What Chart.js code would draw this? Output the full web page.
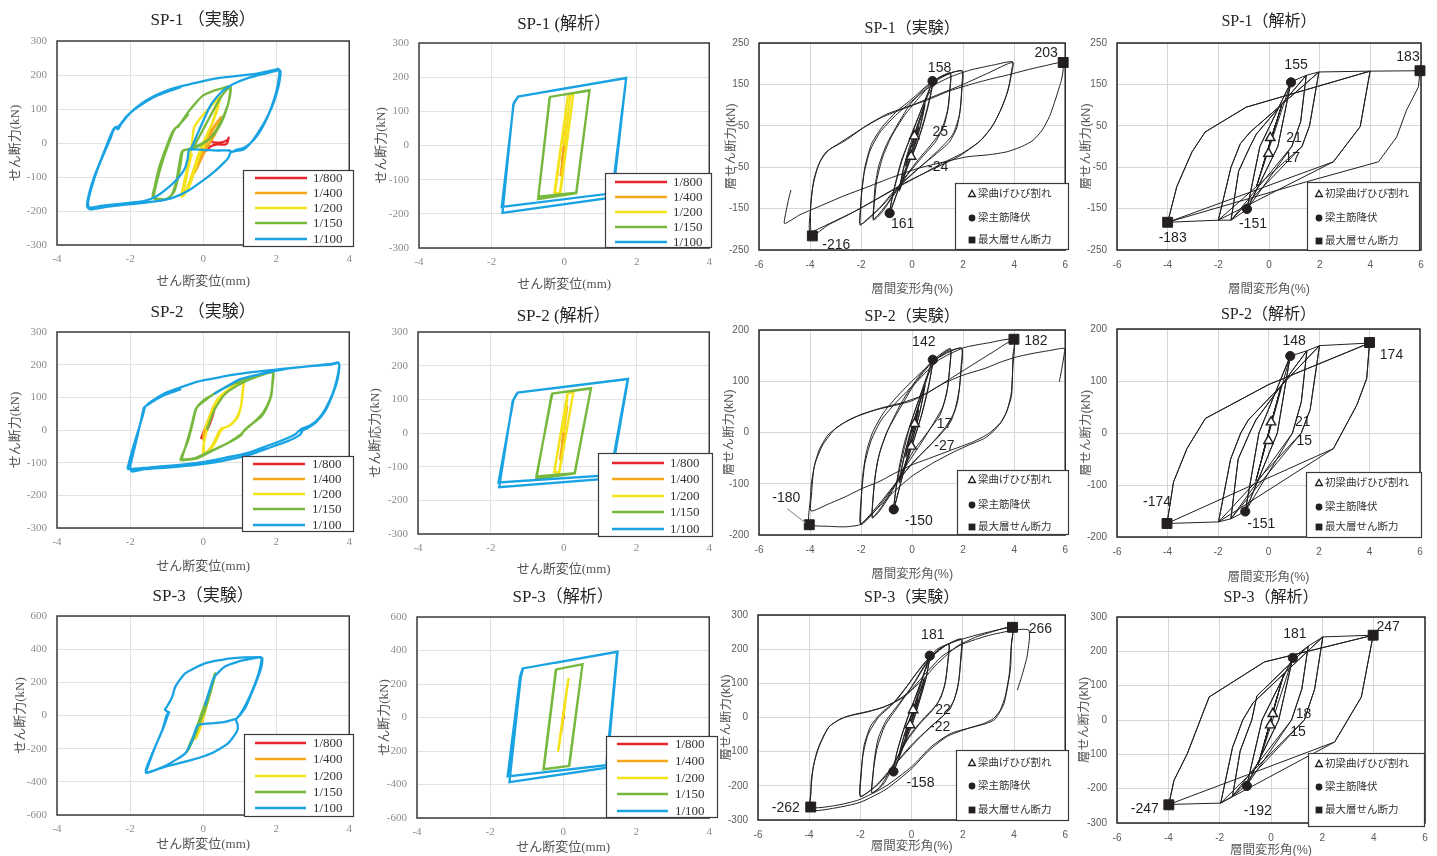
<!DOCTYPE html>
<html>
<head>
<meta charset="utf-8">
<script src="https://cdn.jsdelivr.net/npm/chart.js@4.4.1/dist/chart.umd.min.js"></script>
<style>
  body { margin: 0; background: #fff; }
  #page { position: relative; width: 1437px; height: 856px; overflow: hidden; background: #fff; }
  #page canvas { position: absolute; }
</style>
</head>
<body>
<div id="page"></div>
<script>
// ---------- categories / legend texts ----------
const driftLabels = ['1/800', '1/400', '1/200', '1/150', '1/100'];
const driftColors = ['#e8242c', '#f5a81c', '#f4e21a', '#77b83f', '#1aa3e2'];
const markLabelsExp = ['梁曲げひび割れ', '梁主筋降伏', '最大層せん断力'];
const markLabelsAna = ['初梁曲げひび割れ', '梁主筋降伏', '最大層せん断力'];

// ---------- SP-1 experiment : shear displacement (mm) vs shear force (kN) ----------
const sp1ExpRed = [[-0.05,-20],[0.05,0],[0.2,30],[0.23,40],[0.24,20],[0.25,3],[0.5,2],[0.68,10],[0.7,16],[0.66,0],[0.6,-5],[0.4,-4],[0.2,-10],[0.05,-25],[0,-15]];
const sp1ExpOrange = [[0,0],[0.15,25],[0.3,50],[0.5,77],[0.42,50],[0.3,20],[0.12,-10],[-0.05,-40],[-0.2,-75],[-0.28,-95],[-0.22,-75],[-0.1,-45],[0.05,-10],[0.25,35],[0.48,75],[0.38,40],[0.2,5],[0,-35],[-0.15,-70],[-0.25,-90],[-0.15,-60],[0,-20]];
const sp1ExpYellow = [[0,-20],[0.1,20],[0.25,60],[0.38,105],[0.47,138],[0.42,110],[0.3,70],[0.15,35],[0,0],[-0.15,-40],[-0.3,-90],[-0.45,-135],[-0.6,-155],[-0.55,-130],[-0.45,-80],[-0.35,-30],[-0.3,5],[-0.25,45],[-0.1,70],[0.1,95],[0.3,118],[0.46,136],[0.38,100],[0.25,60],[0.1,20],[-0.05,-20],[-0.2,-70],[-0.35,-120],[-0.5,-150],[-0.58,-158],[-0.5,-125],[-0.4,-70],[-0.3,-30]];
const sp1ExpGreen = [[-0.3,-20],[-0.1,20],[0.1,60],[0.35,110],[0.55,145],[0.75,166],[0.72,130],[0.62,95],[0.45,55],[0.2,15],[-0.1,-8],[-0.35,-18],[-0.55,-22],[-0.6,-50],[-0.68,-100],[-0.8,-145],[-1.0,-165],[-1.38,-160],[-1.33,-130],[-1.2,-70],[-1.0,-10],[-0.85,30],[-0.75,45],[-0.68,48],[-0.45,85],[-0.2,118],[0,140],[0.25,152],[0.5,160],[0.72,167],[0.74,150],[0.66,105],[0.5,60],[0.25,20],[-0.1,-5],[-0.4,-18],[-0.58,-25],[-0.65,-60],[-0.75,-120],[-0.9,-158],[-1.2,-170],[-1.35,-162],[-1.28,-120],[-1.1,-50],[-0.9,10],[-0.78,40],[-0.6,60],[-0.4,85]];
const sp1ExpBlue = [[-0.35,-22],[-0.1,40],[0.2,110],[0.5,150],[0.8,172],[1.2,190],[1.6,202],[2.0,212],[2.08,215],[2.08,195],[2.0,150],[1.85,100],[1.7,62],[1.5,25],[1.3,0],[1.1,-15],[0.9,-20],[0.8,-26],[0.72,-22],[0.4,-22],[0,-20],[-0.38,-20],[-0.42,-45],[-0.5,-75],[-0.7,-105],[-1.0,-135],[-1.3,-158],[-1.6,-170],[-2.2,-178],[-2.8,-185],[-3.12,-190],[-3.15,-175],[-3.05,-130],[-2.9,-80],[-2.75,-40],[-2.55,10],[-2.45,38],[-2.38,45],[-2.33,40],[-2.25,55],[-2.0,88],[-1.7,115],[-1.3,140],[-0.9,158],[-0.4,172],[0,182],[0.5,192],[1.0,198],[1.5,205],[1.95,215],[2.05,218],[2.12,210],[2.05,160],[1.9,110],[1.7,65],[1.5,30],[1.3,0],[1.1,-20],[0.9,-23],[0.75,-28],[0.7,-42],[0.55,-60],[0.3,-85],[0,-110],[-0.4,-140],[-0.8,-160],[-1.3,-172],[-2.0,-180],[-2.6,-187],[-3.1,-195],[-3.18,-185],[-3.1,-140],[-2.95,-90],[-2.8,-50],[-2.6,5],[-2.48,35],[-2.42,45],[-2.3,50],[-2.1,78],[-1.8,105],[-1.4,132],[-1.0,150],[-0.6,165]];

// ---------- SP-1 analysis : shear displacement ----------
const sp1AnaRed = [[0,0],[0.05,45],[-0.05,-45],[0,0]];
const sp1AnaOrange = [[0,0],[0.1,90],[-0.1,-90],[0.1,90],[0,0]];
const sp1AnaYellow = [[0,0],[0.17,145],[0.25,148],[-0.1,-138],[-0.25,-140],[0.1,143],[0.25,148],[-0.12,-140],[-0.27,-138],[0.1,143]];
const sp1AnaGreen = [[0,149],[0.7,161],[0.34,-138],[-0.71,-150],[-0.39,142],[0.7,162],[0.33,-140],[-0.72,-157],[-0.4,140]];
const sp1AnaBlue = [[-0.3,161],[1.71,197],[1.32,-140],[-1.72,-180],[-1.39,124],[-1.27,143],[1.71,198],[1.34,-152],[-1.7,-197],[-1.4,120],[-1.28,141]];

// ---------- SP-1 experiment : drift angle (%) vs storey shear (kN) ----------
const sp1ExpCurve = [
  [0,0],[0.12,25],[0.25,45],[0.15,20],[0,-5],[-0.12,-25],[-0.25,-45],[-0.15,-20],[0,5],[0.25,48],[0.1,10],[-0.25,-48],[-0.1,-12],
  [0.15,30],[0.5,100],[0.35,55],[0.1,0],[-0.2,-50],[-0.5,-105],[-0.35,-55],[-0.1,0],[0.2,50],[0.5,103],[0.3,45],[0,-15],[-0.5,-108],[-0.3,-45],[0,10],
  [0.4,85],[0.8,158],[0.7,120],[0.45,60],[0.15,0],[-0.3,-60],[-0.6,-115],[-0.88,-161],[-0.75,-115],[-0.45,-45],[-0.15,10],[0.3,80],[0.82,160],[0.7,115],[0.4,45],[0.05,-15],[-0.4,-80],[-0.88,-158],[-0.7,-100],[-0.4,-30],
  [0,30],[0.5,110],[1.0,160],[1.5,175],[1.48,140],[1.42,95],[1.25,50],[0.9,10],[0.4,-25],[-0.2,-70],[-0.8,-125],[-1.2,-160],[-1.52,-178],[-1.5,-140],[-1.45,-95],[-1.3,-45],[-1.0,5],[-0.6,50],[-0.1,100],[0.5,140],[1.0,165],[1.5,178],[1.47,130],[1.38,85],[1.15,40],[0.75,5],[0.2,-35],[-0.4,-85],[-1.0,-140],[-1.5,-175],[-1.47,-130],[-1.38,-80],[-1.15,-25],[-0.8,25],[-0.3,75],
  [0.3,120],[0.9,160],[1.5,178],[1.96,182],[1.95,150],[1.9,95],[1.75,45],[1.45,10],[0.9,-20],[0.2,-55],[-0.6,-100],[-1.3,-150],[-1.75,-175],[-2.04,-190],[-2.02,-160],[-1.98,-110],[-1.85,-50],[-1.6,5],[-1.2,45],[-0.6,85],[0,115],[0.6,148],[1.2,170],[1.97,183],[1.94,130],[1.85,75],[1.6,30],[1.1,-5],[0.4,-45],[-0.4,-90],[-1.2,-145],[-2.02,-188],[-2.0,-130],[-1.88,-65],[-1.65,-10],[-1.25,35],[-0.7,72],[-0.1,105],
  [0.6,140],[1.5,168],[2.3,185],[3.2,197],[3.94,205],[3.9,185],[3.78,140],[3.55,100],[3.2,55],[2.7,15],[2.0,-15],[1.2,-40],[0.3,-70],[-0.6,-100],[-1.6,-135],[-2.5,-165],[-3.3,-190],[-3.91,-216],[-3.98,-190],[-3.97,-140],[-3.85,-80],[-3.6,-35],[-3.25,-8],[-2.6,15],[-1.8,50],[-1.0,78],[0,100],[1.0,125],[2.0,150],[3.0,178],[3.94,203],[3.88,170],[3.7,125],[3.45,85],[3.1,45],[2.6,10],[1.8,-25],[0.8,-55],[-0.2,-85],[-1.2,-120],[-2.2,-155],[-3.2,-185],[-4.0,-205],[-3.98,-150],[-3.9,-100],[-3.7,-50],[-3.4,-15],[-2.8,10],[-2.0,42],[-1.2,70],[-0.3,92],
  [0.7,115],[1.5,135],[2.4,152],[3.2,165],[3.7,172],[4.5,185],[5.2,195],[5.9,203],[5.92,185],[5.85,160],[5.77,144],[5.6,110],[5.38,72],[5.1,40],[4.74,15],[4.3,0],[3.7,-13],[3.0,-20],[2.15,-25],[1.2,-38],[0.22,-53],[-0.8,-75],[-1.72,-97],[-2.7,-120],[-3.65,-145],[-4.4,-165],[-5.0,-186],[-4.95,-160],[-4.85,-130],[-4.75,-105]
];
const sp1ExpCrack = [[0.09,25,'25'],[-0.04,-24,'-24']];
const sp1ExpYield = [[0.8,158,'158'],[-0.88,-161,'161']];
const sp1ExpMax = [[5.92,203,'203'],[-3.91,-216,'-216']];

// ---------- SP-1 analysis : drift angle ----------
const sp1AnaCurve = [
  [0,0],[0.25,52],[-0.25,-48],[0.25,52],[-0.25,-48],
  [0.5,100],[-0.5,-98],[0.5,100],[-0.5,-98],
  [0.87,156],[0.35,0],[-0.87,-152],[-0.36,0],[0.87,156],[0.35,0],[-0.87,-152],[-0.36,0],
  [0.87,156],[1.47,172],[1.25,60],[0.9,0],[-0.87,-152],[-1.5,-178],[-1.2,-60],[-0.75,0],[-0.5,30],[1.47,172],[1.25,60],[0.9,0],[-1.5,-178],[-1.2,-60],[-0.75,0],[-0.5,30],
  [1.47,172],[1.97,180],[1.6,50],[1.3,0],[-1.5,-178],[-2,-178],[-1.5,-50],[-1.13,7],[-0.74,35],[1.97,180],[1.6,50],[1.3,0],[-2,-178],[-1.5,-50],[-1.13,7],[-0.74,35],
  [1.97,180],[3.99,182],[3.6,48],[2.54,-37],[-2,-178],[-4,-183],[-3.64,-97],[-3.04,-13],[-2.52,35],[-0.9,95],[3.99,182],[3.6,48],[2.54,-37],[-4,-183],[-3.64,-97],[-3.04,-13],[-2.52,35],[-0.9,95],
  [3.99,182],[5.96,183],[5.9,144],[5.43,88],[5.04,23],[4.32,-37],[1.49,-85],[-4,-183]
];
const sp1AnaCrack = [[0.05,21,'21'],[-0.02,-17,'17']];
const sp1AnaYield = [[0.87,155,'155'],[-0.87,-151,'-151']];
const sp1AnaMax = [[5.96,183,'183'],[-4,-183,'-183']];

// ---------- SP-2 experiment : shear displacement ----------
const sp2ExpRed = [[0,-20],[0.05,0],[0.15,30],[0.28,58],[0.3,65],[0.25,40],[0.15,10],[0.05,-10],[-0.05,-25],[0,-10],[0.1,15],[0.25,50],[0.3,60],[0.2,25],[0.05,-5]];
const sp2ExpOrange = [[0,-30],[0.05,0],[0.15,30],[0.3,76],[0.25,50],[0.15,20],[0.05,-10],[0,-30],[0.02,-5],[0.12,25],[0.28,70],[0.2,35],[0.05,-5],[0,-25]];
const sp2ExpYellow = [[0.05,0],[0.2,50],[0.4,95],[0.7,125],[1.1,155],[1.08,120],[1.03,70],[0.9,35],[0.7,12],[0.5,5],[0.42,-8],[0.3,-36],[0.15,-62],[0.03,-72],[0.02,-45],[0.08,-10],[0.18,30],[0.3,70],[0.5,100],[0.8,130],[1.12,158],[1.1,130],[1.05,80],[0.95,40],[0.75,15],[0.55,5],[0.45,-10],[0.32,-40],[0.15,-65],[0,-70],[0.02,-40],[0.1,0]];
const sp2ExpGreen = [[0.1,0],[0.3,60],[0.6,110],[1.0,140],[1.4,160],[1.9,176],[1.9,150],[1.87,107],[1.75,70],[1.6,42],[1.3,15],[1.1,-5],[1.05,-15],[0.75,-36],[0.3,-61],[-0.15,-86],[-0.5,-92],[-0.62,-92],[-0.55,-70],[-0.42,-36],[-0.3,15],[-0.2,61],[-0.15,72],[0.1,95],[0.4,118],[0.8,140],[1.2,155],[1.6,168],[1.92,178],[1.9,140],[1.83,95],[1.65,55],[1.4,25],[1.15,2],[1.05,-12],[0.7,-38],[0.2,-65],[-0.2,-85],[-0.5,-90],[-0.58,-88],[-0.48,-50],[-0.35,0],[-0.25,45],[-0.2,65],[0,90],[0.3,110]];
const sp2ExpBlue = [[0.3,110],[1.0,155],[1.6,172],[2.2,186],[3.0,196],[3.5,200],[3.71,205],[3.72,190],[3.65,150],[3.53,107],[3.35,65],[3.17,36],[2.95,15],[2.72,5],[2.6,-5],[2.54,-12],[2.2,-30],[1.82,-46],[1.2,-71],[0.6,-85],[0,-98],[-0.8,-108],[-1.5,-115],[-2.06,-119],[-2.03,-100],[-1.95,-66],[-1.8,-10],[-1.65,45],[-1.59,71],[-1.52,78],[-1.45,85],[-1.05,112],[-0.5,135],[-0.15,148],[0.3,158],[0.75,168],[1.4,178],[2.09,186],[2.99,196],[3.5,202],[3.7,207],[3.73,195],[3.68,155],[3.55,110],[3.35,60],[3.1,25],[2.85,5],[2.72,-2],[2.65,-15],[2.3,-35],[1.8,-55],[1.2,-78],[0.5,-95],[-0.3,-108],[-1.0,-115],[-1.6,-120],[-1.95,-127],[-2.0,-115],[-1.92,-75],[-1.8,-20],[-1.7,30],[-1.62,68],[-1.55,75],[-1.45,82],[-1.1,105],[-0.6,125]];

// ---------- SP-2 analysis : shear displacement ----------
const sp2AnaRed = [[0,0],[0.03,30],[-0.03,-30],[0,0]];
const sp2AnaOrange = [[0,0],[0.1,80],[-0.1,-80],[0.1,80],[0,0]];
const sp2AnaYellow = [[0,0],[0.11,117],[0.27,122],[-0.13,-119],[-0.25,-114],[0.11,117],[0.27,122],[-0.12,-120],[-0.26,-116],[0.1,116]];
const sp2AnaGreen = [[0.05,122],[0.75,132],[0.31,-119],[-0.75,-129],[-0.31,117],[0.75,133],[0.3,-120],[-0.75,-136],[-0.33,115]];
const sp2AnaBlue = [[-0.35,132],[1.76,160],[1.28,-125],[-1.79,-147],[-1.38,98],[-1.26,120],[1.77,161],[1.3,-135],[-1.77,-161],[-1.4,95],[-1.28,118]];

// ---------- SP-2 experiment : drift angle ----------
const sp2ExpCurve = [
  [0,0],[0.12,22],[0.25,42],[0.12,15],[0,-5],[-0.12,-25],[-0.25,-45],[-0.12,-18],[0,5],[0.25,45],[0.1,10],[-0.25,-48],[-0.1,-10],
  [0.2,40],[0.5,90],[0.35,50],[0.1,0],[-0.2,-50],[-0.5,-95],[-0.35,-55],[-0.1,-5],[0.2,45],[0.5,92],[0.3,40],[0,-15],[-0.5,-98],[-0.3,-45],[0,10],
  [0.4,75],[0.81,141],[0.68,100],[0.4,40],[0.1,-10],[-0.3,-70],[-0.72,-150],[-0.6,-100],[-0.35,-40],[-0.1,10],[0.3,70],[0.82,143],[0.65,90],[0.35,30],[0,-25],[-0.4,-90],[-0.72,-148],[-0.55,-80],[-0.3,-20],
  [0.1,40],[0.6,110],[1.0,145],[1.5,162],[1.48,130],[1.4,90],[1.2,50],[0.8,15],[0.3,-25],[-0.3,-70],[-0.9,-125],[-1.3,-155],[-1.56,-167],[-1.53,-130],[-1.45,-85],[-1.25,-35],[-0.9,10],[-0.4,60],[0.2,105],[0.8,140],[1.5,164],[1.46,120],[1.35,75],[1.1,35],[0.6,0],[0,-40],[-0.6,-95],[-1.2,-145],[-1.56,-165],[-1.5,-110],[-1.35,-55],[-1.0,0],[-0.5,45],
  [0.1,95],[0.8,138],[1.4,158],[1.94,164],[1.92,130],[1.85,85],[1.65,40],[1.3,10],[0.7,-25],[0,-60],[-0.7,-105],[-1.4,-150],[-1.8,-172],[-2.02,-180],[-2.0,-140],[-1.95,-90],[-1.8,-40],[-1.55,0],[-1.1,40],[-0.5,75],[0.2,110],[1.0,145],[1.94,165],[1.9,110],[1.78,60],[1.5,20],[1.0,-10],[0.3,-45],[-0.5,-90],[-1.3,-140],[-2.02,-178],[-1.98,-120],[-1.85,-60],[-1.6,-15],[-1.2,25],[-0.6,60],
  [0.2,100],[1.0,140],[2.0,165],[3.0,175],[3.99,182],[3.95,150],[3.9,73],[3.7,40],[3.5,21],[3.2,3],[2.85,-11],[2.2,-25],[1.55,-40],[0.8,-60],[0,-85],[-0.7,-115],[-1.3,-145],[-1.7,-165],[-2.05,-180],[-2.6,-184],[-3.3,-183],[-4.03,-179],[-3.99,-130],[-3.95,-100],[-3.8,-60],[-3.5,-24],[-3.0,8],[-2.34,28],[-1.43,44],[-0.5,55],[0,62],[0.7,80],[1.5,105],[2.3,130],[3.2,158],[3.99,180],[3.95,130],[3.88,75],[3.7,40],[3.45,18],[3.0,-2],[2.4,-18],[1.6,-33],[0.7,-50],[0,-63],[-0.7,-80],[-1.3,-96],[-1.95,-109],[-2.6,-125],[-3.3,-140],[-3.96,-153],[-3.94,-120],[-3.85,-70],[-3.65,-35],[-3.3,-5],[-2.7,18],[-2.0,35],[-1.2,48],[-0.4,58],[0.4,72],[1.2,95],[2.0,112],[2.85,125],[3.5,138],[4.14,148],[4.8,155],[5.4,160],[5.96,164],[5.95,150],[5.85,120],[5.77,99]
];
const sp2ExpCrack = [[0.1,17,'17'],[-0.03,-27,'-27']];
const sp2ExpYield = [[0.81,142,'142'],[-0.72,-150,'-150']];
const sp2ExpMax = [[3.99,182,'182'],[-4.03,-180,'-180']];

// ---------- SP-2 analysis : drift angle ----------
const sp2AnaCurve = [
  [0,0],[0.25,45],[-0.25,-45],[0.25,45],[-0.25,-45],
  [0.5,90],[-0.5,-92],[0.5,90],[-0.5,-92],
  [0.86,148],[0.35,0],[-0.92,-151],[-0.38,0],[0.86,148],[0.35,0],[-0.92,-151],[-0.38,0],
  [0.86,148],[1.52,158],[1.3,60],[0.95,0],[-0.92,-151],[-1.49,-165],[-1.2,-50],[-0.75,0],[-0.5,25],[1.52,158],[1.3,60],[0.95,0],[-1.49,-165],[-1.2,-50],[-0.75,0],[-0.5,25],
  [1.52,158],[2.02,168],[1.65,45],[1.3,0],[-1.49,-165],[-1.98,-171],[-1.5,-50],[-1.1,0],[-0.8,25],[2.02,168],[1.65,45],[1.3,0],[-1.98,-171],[-1.5,-50],[-1.1,0],[-0.8,25],
  [2.02,168],[4.0,173],[3.89,105],[3.5,54],[2.57,-30],[-1.98,-171],[-4.02,-174],[-3.76,-94],[-3.23,-30],[-2.5,28],[0,93],[4.0,173],[3.89,105],[3.5,54],[2.57,-30],[-4.02,-174],[-3.76,-94],[-3.23,-30],[-2.5,28],[0,93],[4.0,173]
];
const sp2AnaCrack = [[0.1,21,'21'],[0,-15,'15']];
const sp2AnaYield = [[0.86,148,'148'],[-0.92,-151,'-151']];
const sp2AnaMax = [[4.0,174,'174'],[-4.02,-174,'-174']];

// ---------- SP-3 experiment : shear displacement ----------
const sp3ExpRed = [[0,0],[0.05,30],[-0.03,-30],[0.04,25],[-0.02,-35],[0,0]];
const sp3ExpOrange = [[0,0],[0.08,60],[-0.08,-70],[0.08,55],[-0.08,-75],[0,0]];
const sp3ExpYellow = [[0,0],[0.12,100],[0.18,130],[0.05,30],[-0.1,-80],[-0.2,-140],[-0.12,-100],[0.05,20],[0.15,110],[0.05,40],[-0.18,-130],[-0.05,-40]];
const sp3ExpGreen = [[0,0],[0.15,100],[0.28,200],[0.33,254],[0.28,220],[0.15,120],[0,20],[-0.15,-80],[-0.3,-160],[-0.44,-219],[-0.38,-180],[-0.2,-90],[-0.05,10],[0.1,100],[0.25,190],[0.32,250],[0.25,190],[0.1,80],[-0.05,-20],[-0.25,-130],[-0.42,-210],[-0.3,-150],[-0.1,-40],[0.05,60]];
const sp3ExpBlue = [[0.05,60],[0.3,230],[0.6,295],[1.0,328],[1.3,342],[1.59,351],[1.6,335],[1.52,255],[1.38,170],[1.2,80],[1.02,10],[0.9,-20],[0.82,-25],[0.6,-38],[0.2,-48],[-0.15,-60],[-0.3,-150],[-0.49,-228],[-1.0,-300],[-1.52,-345],[-1.57,-329],[-1.39,-228],[-1.12,-88],[-1.0,0],[-0.95,20],[-1.05,35],[-1.0,50],[-0.85,110],[-0.76,174],[-0.49,254],[0.05,314],[0.77,345],[1.55,352],[1.62,345],[1.58,280],[1.45,200],[1.3,120],[1.15,45],[1.0,0],[0.9,-25],[0.95,-60],[0.92,-98],[0.68,-168],[0.23,-228],[-0.31,-268],[-1.03,-308],[-1.52,-344],[-1.57,-345],[-1.5,-300],[-1.33,-200],[-1.1,-80],[-0.95,10],[-0.92,25]];

// ---------- SP-3 analysis : shear displacement ----------
const sp3AnaRed = [[0,0],[0.02,40],[-0.02,-40],[0,0]];
const sp3AnaOrange = [[0,0],[0.06,100],[-0.06,-100],[0,0]];
const sp3AnaYellow = [[0,0],[0.15,235],[0.12,200],[-0.14,-203],[-0.11,-170],[0.15,235],[-0.14,-205],[0,0]];
const sp3AnaGreen = [[0.05,298],[0.53,317],[0.17,-289],[-0.53,-308],[-0.19,287],[0.53,318],[0.16,-290],[-0.54,-310],[-0.2,285]];
const sp3AnaBlue = [[-0.22,326],[1.48,392],[1.18,-285],[-1.52,-352],[-1.18,243],[-1.11,293],[1.49,393],[1.2,-300],[-1.47,-386],[-1.16,240],[-1.1,290]];

// ---------- SP-3 experiment : drift angle ----------
const sp3ExpCurve = [
  [0,0],[0.12,30],[0.25,55],[0.1,15],[-0.12,-30],[-0.25,-55],[-0.1,-15],[0.25,58],[0.1,15],[-0.25,-58],[-0.1,-15],
  [0.2,50],[0.5,110],[0.3,55],[0,-10],[-0.25,-60],[-0.5,-112],[-0.3,-55],[0,10],[0.5,115],[0.28,50],[-0.05,-20],[-0.5,-115],[-0.28,-50],[0,10],
  [0.35,95],[0.71,180],[0.6,130],[0.35,60],[0.05,-15],[-0.35,-90],[-0.71,-158],[-0.6,-110],[-0.35,-45],[-0.05,20],[0.35,100],[0.72,182],[0.55,110],[0.25,35],[-0.1,-40],[-0.45,-110],[-0.72,-160],[-0.55,-95],[-0.25,-20],
  [0.1,50],[0.6,150],[1.0,195],[1.45,214],[1.42,170],[1.33,110],[1.15,60],[0.8,20],[0.3,-20],[-0.2,-70],[-0.7,-140],[-1.1,-195],[-1.55,-222],[-1.52,-180],[-1.45,-120],[-1.3,-60],[-1.0,-10],[-0.5,40],[0.1,100],[0.7,170],[1.45,215],[1.4,150],[1.28,90],[1.0,40],[0.5,0],[-0.1,-55],[-0.7,-135],[-1.2,-200],[-1.55,-220],[-1.5,-160],[-1.35,-90],[-1.05,-25],[-0.6,25],
  [0,90],[0.7,175],[1.3,210],[1.94,228],[1.92,180],[1.85,110],[1.65,50],[1.3,10],[0.7,-30],[0,-80],[-0.7,-140],[-1.4,-200],[-2.0,-232],[-1.98,-180],[-1.9,-110],[-1.7,-50],[-1.3,0],[-0.8,35],[-0.2,90],[0.5,160],[1.2,205],[1.95,230],[1.9,150],[1.78,80],[1.5,25],[1.0,-10],[0.3,-60],[-0.5,-125],[-1.3,-195],[-2.0,-230],[-1.96,-150],[-1.85,-80],[-1.6,-25],[-1.2,12],[-0.6,50],
  [0.2,130],[1.0,200],[1.87,227],[3.0,250],[3.94,262],[3.9,220],[3.87,149],[3.75,90],[3.61,41],[3.4,10],[3.23,-7],[2.9,-18],[2.45,-27],[1.55,-46],[0.77,-85],[0,-144],[-1.03,-202],[-2.06,-241],[-3.0,-258],[-3.94,-263],[-3.93,-220],[-3.92,-183],[-3.8,-130],[-3.61,-85],[-3.4,-50],[-3.23,-27],[-2.9,-10],[-2.58,2],[-2.1,10],[-1.68,17],[-1.2,28],[-0.77,41],[-0.3,60],[0,80],[0.5,115],[0.9,150],[1.4,185],[1.8,210],[2.5,235],[3.2,252],[3.94,265],[3.88,200],[3.82,130],[3.65,60],[3.45,20],[3.2,-3],[2.8,-18],[2.2,-32],[1.4,-55],[0.7,-95],[0,-150],[-1.0,-210],[-2.0,-248],[-3.0,-265],[-3.94,-271],[-3.93,-210],[-3.85,-150],[-3.7,-100],[-3.45,-55],[-3.2,-25],[-2.8,-5],[-2.3,8],[-1.7,18],[-1.1,30],[-0.6,48],
  [-0.1,75],[0.5,125],[1.2,180],[2.0,215],[3.0,240],[3.94,255],[4.3,258],[4.58,256],[4.6,230],[4.5,175],[4.3,120],[4.13,80]
];
const sp3ExpCrack = [[0.06,22,'22'],[-0.06,-22,'-22']];
const sp3ExpYield = [[0.71,181,'181'],[-0.71,-158,'-158']];
const sp3ExpMax = [[3.94,264,'266'],[-3.94,-262,'-262']];

// ---------- SP-3 analysis : drift angle ----------
const sp3AnaCurve = [
  [0,0],[0.25,70],[-0.25,-65],[0.25,70],[-0.25,-65],
  [0.5,135],[-0.5,-130],[0.5,135],[-0.5,-130],
  [0.85,181],[0.3,0],[-0.94,-190],[-0.35,0],[0.85,181],[0.3,0],[-0.94,-190],[-0.35,0],
  [0.85,181],[1.45,215],[1.2,90],[0.8,0],[-0.94,-190],[-1.5,-222],[-1.2,-90],[-0.75,0],[-0.55,70],[1.45,215],[1.2,90],[0.8,0],[-1.5,-222],[-1.2,-90],[-0.75,0],[-0.55,70],
  [1.45,215],[2.02,242],[1.7,90],[1.3,0],[-1.5,-222],[-1.96,-242],[-1.5,-80],[-1.1,0],[-0.7,50],[2.02,242],[1.7,90],[1.3,0],[-1.96,-242],[-1.5,-80],[-1.1,0],[-0.7,50],
  [2.02,242],[3.98,247],[3.52,67],[2.48,-64],[-1.96,-242],[-3.98,-246],[-3.78,-176],[-3.26,-98],[-2.41,67],[-0.26,169],[3.98,247],[3.52,67],[2.48,-64],[-3.98,-246],[-3.78,-176],[-3.26,-98],[-2.41,67],[-0.26,169],[3.98,247]
];
const sp3AnaCrack = [[0.07,18,'18'],[-0.03,-15,'15']];
const sp3AnaYield = [[0.85,181,'181'],[-0.94,-192,'-192']];
const sp3AnaMax = [[3.98,247,'247'],[-3.98,-247,'-247']];

// ---------- fonts ----------
const SERIF = "'Liberation Serif', 'Noto Sans CJK JP', serif";
const SANS = "'Liberation Sans', 'Noto Sans CJK JP', sans-serif";

// ---------- panel layout (page pixel coordinates) ----------
const panels = [
  { box: [0, 0, 360, 292], plot: [57, 41, 352, 245], mode: 'color', title: 'SP-1 （実験）', titleY: 21, xTitleY: 282, yTitleX: 16,
    yTitle: 'せん断力(kN)', yRange: [-300, 300, 100], tension: 0.2,
    lines: [sp1ExpRed, sp1ExpOrange, sp1ExpYellow, sp1ExpGreen, sp1ExpBlue],
    legend: { box: [243, 170, 354, 247], lineX: [255, 307], textX: 313, rows: [178, 193, 208, 223, 239] } },
  { box: [360, 0, 360, 292], plot: [419, 43, 712, 248], mode: 'color', title: 'SP-1 (解析）', titleY: 25, xTitleY: 285, yTitleX: 382,
    yTitle: 'せん断力(kN)', yRange: [-300, 300, 100], tension: 0,
    lines: [sp1AnaRed, sp1AnaOrange, sp1AnaYellow, sp1AnaGreen, sp1AnaBlue],
    legend: { box: [605, 173, 712, 248], lineX: [615, 667], textX: 673, rows: [182, 197, 212, 227, 242] } },
  { box: [720, 0, 357, 300], plot: [759, 43, 1069, 250], mode: 'bw', title: 'SP-1（実験）', titleY: 29, xTitleY: 290, yTitleX: 732,
    yRange: [-250, 250, 100], tension: 0.2, curve: sp1ExpCurve, crack: sp1ExpCrack, yld: sp1ExpYield, max: sp1ExpMax, legendTexts: markLabelsExp,
    labels: [['yld', 0, 7, -13, 'center'], ['crack', 0, 18, -4, 'left'], ['crack', 1, 17, 11, 'left'], ['yld', 1, 13, 11, 'center'], ['max', 1, 24, 9, 'center'], ['max', 0, -17, -9, 'center']],
    legend: { box: [955, 183, 1069, 250], markX: 972, textX: 978, rows: [194, 218, 240] } },
  { box: [1077, 0, 360, 300], plot: [1117, 43, 1421, 250], mode: 'bw', title: 'SP-1（解析）', titleY: 22, xTitleY: 290, yTitleX: 1087,
    yRange: [-250, 250, 100], tension: 0, curve: sp1AnaCurve, crack: sp1AnaCrack, yld: sp1AnaYield, max: sp1AnaMax, legendTexts: markLabelsAna,
    labels: [['yld', 0, 5, -17, 'center'], ['crack', 0, 16, 0, 'left'], ['crack', 1, 16, 5, 'left'], ['yld', 1, 6, 15, 'center'], ['max', 1, 5, 16, 'center'], ['max', 0, -12, -14, 'center']],
    legend: { box: [1307, 182, 1420, 251], markX: 1319, textX: 1325, rows: [194, 218, 241] } },

  { box: [0, 292, 360, 288], plot: [57, 332, 354, 528], mode: 'color', title: 'SP-2 （実験）', titleY: 313, xTitleY: 567, yTitleX: 16,
    yTitle: 'せん断力(kN)', yRange: [-300, 300, 100], tension: 0.2,
    lines: [sp2ExpRed, sp2ExpOrange, sp2ExpYellow, sp2ExpGreen, sp2ExpBlue],
    legend: { box: [242, 456, 354, 532], lineX: [253, 305], textX: 312, rows: [464, 479, 494, 509, 525] } },
  { box: [360, 292, 360, 288], plot: [418, 332, 713, 534], mode: 'color', title: 'SP-2 (解析）', titleY: 317, xTitleY: 570, yTitleX: 376,
    yTitle: 'せん断応力(kN)', yRange: [-300, 300, 100], tension: 0,
    lines: [sp2AnaRed, sp2AnaOrange, sp2AnaYellow, sp2AnaGreen, sp2AnaBlue],
    legend: { box: [598, 453, 713, 537], lineX: [612, 664], textX: 670, rows: [463, 479, 496, 512, 529] } },
  { box: [720, 300, 357, 285], plot: [759, 330, 1068, 535], mode: 'bw', title: 'SP-2（実験）', titleY: 317, xTitleY: 575, yTitleX: 730,
    yRange: [-200, 200, 100], tension: 0.2, curve: sp2ExpCurve, crack: sp2ExpCrack, yld: sp2ExpYield, max: sp2ExpMax, legendTexts: markLabelsExp,
    labels: [['yld', 0, -9, -18, 'center'], ['max', 0, 22, 2, 'center'], ['crack', 0, 22, 0, 'left'], ['crack', 1, 23, 0, 'left'], ['yld', 1, 25, 12, 'center'], ['max', 1, -23, -27, 'center', [-22, -16, -4, -2]]],
    legend: { box: [957, 470, 1069, 535], markX: 972, textX: 978, rows: [480, 505, 527] } },
  { box: [1077, 300, 360, 285], plot: [1117, 329, 1420, 537], mode: 'bw', title: 'SP-2（解析）', titleY: 315, xTitleY: 578, yTitleX: 1087,
    yRange: [-200, 200, 100], tension: 0, curve: sp2AnaCurve, crack: sp2AnaCrack, yld: sp2AnaYield, max: sp2AnaMax, legendTexts: markLabelsAna,
    labels: [['yld', 0, 4, -15, 'center'], ['max', 0, 22, 13, 'center'], ['crack', 0, 24, 0, 'left'], ['crack', 1, 28, 0, 'left'], ['max', 1, -10, -21, 'center'], ['yld', 1, 16, 13, 'center']],
    legend: { box: [1306, 472, 1422, 538], markX: 1319, textX: 1325, rows: [483, 507, 527] } },

  { box: [0, 580, 360, 276], plot: [57, 616, 353, 815], mode: 'color', title: 'SP-3（実験）', titleY: 597, xTitleY: 845, yTitleX: 21,
    yTitle: 'せん断力(kN)', yRange: [-600, 600, 200], tension: 0.2,
    lines: [sp3ExpRed, sp3ExpOrange, sp3ExpYellow, sp3ExpGreen, sp3ExpBlue],
    legend: { box: [244, 734, 354, 817], lineX: [255, 306], textX: 313, rows: [743, 759, 776, 792, 808] } },
  { box: [360, 580, 360, 276], plot: [417, 617, 718, 818], mode: 'color', title: 'SP-3（解析）', titleY: 598, xTitleY: 848, yTitleX: 385,
    yTitle: 'せん断力(kN)', yRange: [-600, 600, 200], tension: 0,
    lines: [sp3AnaRed, sp3AnaOrange, sp3AnaYellow, sp3AnaGreen, sp3AnaBlue],
    legend: { box: [606, 736, 718, 818], lineX: [617, 668], textX: 675, rows: [744, 761, 778, 794, 811] } },
  { box: [720, 585, 357, 271], plot: [758, 615, 1068, 820], mode: 'bw', title: 'SP-3（実験）', titleY: 598, xTitleY: 847, yTitleX: 727,
    yRange: [-300, 300, 100], tension: 0.2, curve: sp3ExpCurve, crack: sp3ExpCrack, yld: sp3ExpYield, max: sp3ExpMax, legendTexts: markLabelsExp,
    labels: [['yld', 0, 3, -21, 'center'], ['max', 0, 28, 2, 'center'], ['crack', 0, 22, 0, 'left'], ['crack', 1, 20, 2, 'left'], ['yld', 1, 27, 12, 'center'], ['max', 1, -25, 1, 'center']],
    legend: { box: [956, 750, 1069, 821], markX: 972, textX: 978, rows: [763, 786, 810] } },
  { box: [1077, 585, 360, 271], plot: [1117, 617, 1425, 823], mode: 'bw', title: 'SP-3（解析）', titleY: 598, xTitleY: 851, yTitleX: 1085,
    yRange: [-300, 300, 100], tension: 0, curve: sp3AnaCurve, crack: sp3AnaCrack, yld: sp3AnaYield, max: sp3AnaMax, legendTexts: markLabelsAna,
    labels: [['yld', 0, 2, -24, 'center'], ['max', 0, 15, -8, 'center'], ['crack', 0, 23, 0, 'left'], ['crack', 1, 20, 7, 'left'], ['max', 1, -24, 4, 'center'], ['yld', 1, 11, 25, 'center']],
    legend: { box: [1308, 753, 1425, 827], markX: 1319, textX: 1325, rows: [764, 787, 810] } }
];

const INK = '#231f20';
const pts = arr => arr.map(p => ({ x: p[0], y: p[1] }));

function drawMark(ctx, kind, x, y, r) {
  ctx.save();
  ctx.fillStyle = INK; ctx.strokeStyle = INK; ctx.lineWidth = 1.3;
  ctx.beginPath();
  if (kind === 0) {
    ctx.moveTo(x, y - r); ctx.lineTo(x + r * 0.95, y + r * 0.7); ctx.lineTo(x - r * 0.95, y + r * 0.7); ctx.closePath();
    ctx.fillStyle = '#fff'; ctx.fill(); ctx.stroke();
  } else if (kind === 1) {
    ctx.arc(x, y, r, 0, Math.PI * 2); ctx.fill();
  } else {
    ctx.rect(x - r, y - r, 2 * r, 2 * r); ctx.fill();
  }
  ctx.restore();
}

// frame, in-plot legend and point labels
const panelDecor = {
  id: 'panelDecor',
  beforeDatasetsDraw(chart, args, o) {
    const a = chart.chartArea, ctx = chart.ctx;
    ctx.save();
    ctx.strokeStyle = o.frameColor; ctx.lineWidth = o.frameWidth;
    ctx.strokeRect(a.left, a.top, a.right - a.left, a.bottom - a.top);
    ctx.restore();
  },
  afterDatasetsDraw(chart, args, o) {
    const ctx = chart.ctx, p = o.panel, ox = p.box[0], oy = p.box[1], lg = p.legend;
    ctx.save();
    const [bx0, by0, bx1, by1] = lg.box;
    ctx.fillStyle = '#fff';
    ctx.fillRect(bx0 - ox, by0 - oy, bx1 - bx0, by1 - by0);
    ctx.strokeStyle = '#3a3a3a'; ctx.lineWidth = 1.2;
    ctx.strokeRect(bx0 - ox + 0.5, by0 - oy + 0.5, bx1 - bx0 - 1, by1 - by0 - 1);
    ctx.textBaseline = 'middle'; ctx.textAlign = 'left';
    if (p.mode === 'color') {
      ctx.font = '13px ' + SERIF;
      driftLabels.forEach((t, i) => {
        const y = lg.rows[i] - oy;
        ctx.strokeStyle = driftColors[i]; ctx.lineWidth = 2.5;
        ctx.beginPath(); ctx.moveTo(lg.lineX[0] - ox, y); ctx.lineTo(lg.lineX[1] - ox, y); ctx.stroke();
        ctx.fillStyle = '#333';
        ctx.fillText(t, lg.textX - ox, y + 1);
      });
    } else {
      ctx.font = '10.5px ' + SANS;
      p.legendTexts.forEach((t, i) => {
        const y = lg.rows[i] - oy;
        drawMark(ctx, i, lg.markX - ox, y, i === 0 ? 3.6 : 3.4);
        ctx.fillStyle = '#333';
        ctx.fillText(t, lg.textX - ox, y);
      });
      const setIndex = { crack: 1, yld: 2, max: 3 };
      ctx.font = '14px ' + SANS;
      ctx.fillStyle = INK;
      (p.labels || []).forEach(([set, i, dx, dy, align, leader]) => {
        const el = chart.getDatasetMeta(setIndex[set]).data[i];
        const text = p[set][i][2];
        if (leader) {
          ctx.save();
          ctx.strokeStyle = '#a6a6a6'; ctx.lineWidth = 1.2;
          ctx.beginPath(); ctx.moveTo(el.x + leader[0], el.y + leader[1]); ctx.lineTo(el.x + leader[2], el.y + leader[3]); ctx.stroke();
          ctx.restore();
        }
        ctx.textAlign = align;
        ctx.fillText(text, el.x + dx, el.y + dy);
      });
    }
    ctx.restore();
  }
};

function buildDatasets(p) {
  if (p.mode === 'color') {
    return p.lines.map((arr, i) => ({
      label: driftLabels[i], data: pts(arr), showLine: true, fill: false,
      borderColor: driftColors[i], borderWidth: 2.3, pointRadius: 0, pointHoverRadius: 0,
      tension: p.tension, order: 5 - i
    }));
  }
  return [
    { label: 'curve', data: pts(p.curve), showLine: true, fill: false, borderColor: INK, borderWidth: 1,
      pointRadius: 0, pointHoverRadius: 0, tension: p.tension, order: 4 },
    { label: p.legendTexts[0], data: pts(p.crack), showLine: false, pointStyle: 'triangle', pointRadius: 5.5,
      pointBackgroundColor: '#fff', pointBorderColor: INK, pointBorderWidth: 1.4, order: 1, clip: 12 },
    { label: p.legendTexts[1], data: pts(p.yld), showLine: false, pointStyle: 'circle', pointRadius: 4.6,
      pointBackgroundColor: INK, pointBorderColor: INK, pointBorderWidth: 1, order: 2, clip: 12 },
    { label: p.legendTexts[2], data: pts(p.max), showLine: false, pointStyle: 'rect', pointRadius: 7,
      pointBackgroundColor: INK, pointBorderColor: INK, pointBorderWidth: 1, order: 3, clip: 12 }
  ];
}

const page = document.getElementById('page');
panels.forEach(p => {
  const [L, T, W, H] = p.box;
  const [x0, y0, x1, y1] = p.plot;
  const color = p.mode === 'color';
  const canvas = document.createElement('canvas');
  canvas.width = W; canvas.height = H;
  canvas.style.left = L + 'px'; canvas.style.top = T + 'px';
  page.appendChild(canvas);

  const titleSize = color ? 17 : 16;
  const tlh = titleSize * 1.2;
  const tPadTop = p.titleY - T - tlh / 2;
  const tPadBottom = (y0 - T) - tlh - tPadTop;
  const axisSize = color ? 13 : 12.5;
  const alh = axisSize * 1.2;
  const tickFont = color ? { family: SERIF, size: 11 } : { family: SANS, size: 10 };
  const tickColor = color ? '#8c8c8c' : '#595959';
  const axisColor = color ? '#555' : '#595959';
  const axisFamily = color ? SERIF : SANS;
  const gridColor = color ? '#e2e2e2' : '#d6d6d6';
  const xr = color ? [-4, 4, 2] : [-6, 6, 2];

  new Chart(canvas, {
    type: 'scatter',
    data: { datasets: buildDatasets(p) },
    plugins: [panelDecor],
    options: {
      responsive: false,
      animation: false,
      events: [],
      layout: { padding: { left: 0, top: 0, right: L + W - x1, bottom: 0 } },
      plugins: {
        legend: { display: false },
        tooltip: { enabled: false },
        title: {
          display: true, text: p.title, fullSize: false,
          font: { family: SERIF, size: titleSize, weight: 'normal', lineHeight: 1.2 },
          color: '#262626', padding: { top: tPadTop, bottom: tPadBottom }
        },
        panelDecor: { panel: p, frameColor: color ? '#3c3c3c' : '#262626', frameWidth: 1.5 }
      },
      scales: {
        x: {
          type: 'linear', min: xr[0], max: xr[1],
          ticks: { stepSize: xr[2], font: tickFont, color: tickColor, padding: color ? 8 : 9, maxRotation: 0, autoSkip: false },
          grid: { color: gridColor, lineWidth: 1, drawTicks: false },
          border: { display: false },
          title: {
            display: true, text: color ? 'せん断変位(mm)' : '層間変形角(%)', color: axisColor,
            font: { family: axisFamily, size: axisSize, lineHeight: 1.2 },
            padding: { top: 0, bottom: H - (p.xTitleY - T) - alh / 2 }
          },
          afterFit: s => { s.height = T + H - y1; }
        },
        y: {
          type: 'linear', min: p.yRange[0], max: p.yRange[1],
          ticks: { stepSize: p.yRange[2], font: tickFont, color: tickColor, padding: 10, autoSkip: false },
          grid: { color: gridColor, lineWidth: 1, drawTicks: false },
          border: { display: false },
          title: {
            display: true, text: color ? p.yTitle : '層せん断力(kN)', color: axisColor,
            font: { family: axisFamily, size: axisSize, lineHeight: 1.2 },
            padding: { top: p.yTitleX - L - alh / 2, bottom: 0 }
          },
          afterFit: s => { s.width = x0 - L; }
        }
      }
    }
  });
});
</script>
</body>
</html>
